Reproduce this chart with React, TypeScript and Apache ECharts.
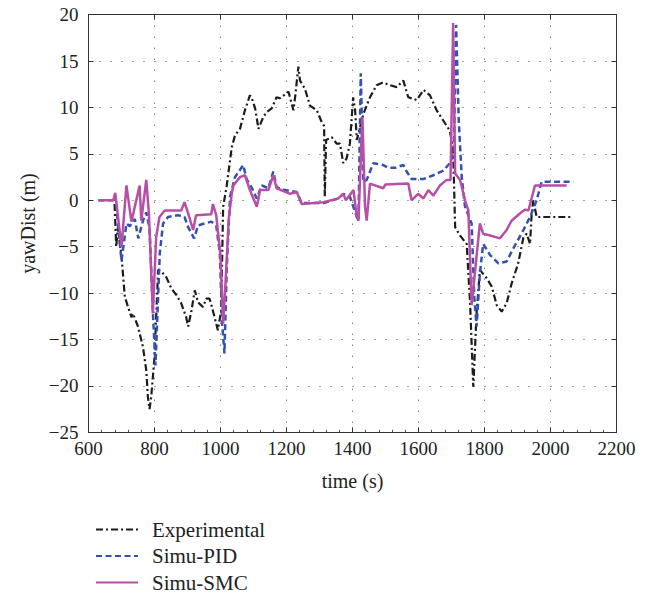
import React, { useEffect, useRef } from "react";
import * as echarts from "echarts";

const xTicks = [600, 800, 1000, 1200, 1400, 1600, 1800, 2000, 2200];
const yTicks = [-25, -20, -15, -10, -5, 0, 5, 10, 15, 20];

const expTime = [679, 684, 689, 700, 710, 720, 730, 735, 750, 765, 775, 780, 785, 790, 800, 811, 821, 836, 851, 866, 881, 896, 902, 912, 922, 932, 947, 957, 967, 977, 987, 992, 1002, 1008, 1019, 1034, 1044, 1059, 1074, 1089, 1094, 1105, 1115, 1130, 1140, 1155, 1170, 1180, 1206, 1221, 1226, 1236, 1241, 1256, 1271, 1292, 1307, 1314, 1316, 1320, 1337, 1352, 1362, 1372, 1382, 1392, 1402, 1408, 1413, 1423, 1433, 1453, 1473, 1493, 1514, 1534, 1554, 1569, 1595, 1615, 1635, 1655, 1675, 1695, 1705, 1711, 1726, 1746, 1756, 1766, 1776, 1786, 1807, 1822, 1837, 1852, 1867, 1882, 1902, 1918, 1928, 1938, 1943, 1948, 1958, 2064];
const expValues = [-0.4, -5.0, -2.9, -6, -10.4, -11.5, -12.6, -12.2, -13.6, -15.8, -18.3, -21.2, -22.5, -21.2, -16.9, -7.5, -7.7, -8.3, -9.5, -10.2, -11.1, -12.6, -13.6, -11.9, -9.7, -11.0, -11.5, -10.6, -10.6, -11.9, -13.3, -14.0, -11.9, -0.7, 1.6, 5.7, 7.0, 7.7, 9.7, 11.3, 11.1, 9.9, 7.7, 9.0, 9.5, 9.9, 11.1, 11.0, 11.7, 9.7, 11.1, 14.4, 12.9, 12.0, 10.2, 9.7, 8.4, 8.0, 0.4, 6.5, 6.8, 6.1, 6.1, 4.0, 4.5, 6.1, 11.1, 9.7, 6.5, 7.9, 9.3, 11.1, 12.4, 12.7, 12.4, 12.2, 12.9, 11.1, 10.8, 11.9, 11.3, 9.7, 8.6, 7.5, 5.4, -2.9, -3.8, -4.7, -10.8, -20.1, -12.2, -7.5, -8.4, -9.3, -11.3, -12.0, -11.1, -9.0, -6.8, -4.0, -3.6, -4.7, -1.4, 0, -1.8, -1.8];

const pidTime = [630, 675, 681, 700, 715, 725, 740, 751, 765, 775, 785, 795, 803, 816, 826, 841, 871, 891, 902, 920, 932, 972, 987, 998, 1005, 1012, 1019, 1029, 1044, 1069, 1079, 1094, 1110, 1125, 1145, 1160, 1170, 1195, 1231, 1246, 1312, 1357, 1372, 1392, 1413, 1418, 1425, 1433, 1443, 1463, 1493, 1509, 1529, 1554, 1564, 1579, 1615, 1645, 1675, 1695, 1707, 1714, 1722, 1731, 1741, 1761, 1769, 1776, 1786, 1796, 1817, 1842, 1867, 1887, 1918, 1938, 1958, 1973, 2069];
const pidValues = [0, 0, 0.5, -6.5, -2.5, -2.8, -2.0, -4.1, -2.2, -1.3, -3, -12, -17.8, -5.7, -2.5, -1.8, -1.6, -1.8, -2.9, -4.1, -2.7, -2.3, -2.7, -5.7, -13.3, -16.5, -7.2, 0.4, 2.5, 3.8, 2.3, 1.4, 0.2, 1.6, 1.3, 3.1, 1.4, 1.1, 0.9, -0.3, -0.3, 0.2, 0.7, 0.4, -1.8, -2.2, 13.7, 2, 2.2, 4.0, 3.8, 3.5, 3.5, 3.8, 3.1, 2.3, 2.3, 2.7, 3.2, 4.0, 5, 18.9, 8.6, 2.5, -0.7, -2.5, -10.4, -13.6, -7.9, -4.7, -5.9, -6.8, -6.6, -5.2, -3.2, -1.8, 0, 2.0, 2.0];

const smcTime = [630, 675, 681, 700, 715, 730, 755, 760, 775, 783, 795, 805, 815, 831, 881, 891, 902, 917, 926, 972, 977, 987, 1000, 1008, 1015, 1025, 1034, 1039, 1059, 1074, 1089, 1110, 1120, 1145, 1160, 1170, 1211, 1231, 1246, 1312, 1357, 1372, 1380, 1403, 1413, 1418, 1430, 1438, 1443, 1453, 1493, 1500, 1569, 1579, 1599, 1615, 1630, 1645, 1665, 1685, 1697, 1705, 1711, 1726, 1741, 1751, 1761, 1786, 1796, 1817, 1847, 1867, 1882, 1908, 1923, 1933, 1953, 2049];
const smcValues = [0, 0, 0.8, -5.0, 1.6, -2.3, 1.6, -2.2, 2.2, -1.4, -12.2, -4.0, -1.8, -1.1, -1.1, -0.2, -1.4, -3.2, -1.6, -1.5, -0.4, -1.6, -6, -13.3, -9, -2, 0.7, 1.6, 2.5, 2.7, 1.1, -0.7, 1.1, 1.1, 2.7, 1.3, 0.7, 0.9, -0.4, -0.2, 0.2, 0.7, 0.0, 1.1, -1.8, -2.2, 9.0, -0.7, -2.2, 1.8, 1.3, 1.7, 1.8, 0, 0.7, 0.2, 1.1, 0.5, 1.6, 2.2, 2.2, 19.1, 2.9, 2.2, 0, -1.1, -11.3, -2.5, -3.6, -3.8, -4.1, -3.2, -2.2, -1.4, -1.0, -1.1, 1.6, 1.6];

const zip = (t: number[], v: number[]) => t.map((x, i) => [x, v[i]]);

const FONT = "Liberation Serif, serif";

export default function App() {
  const ref = useRef<HTMLDivElement>(null);
  useEffect(() => {
    if (!ref.current) return;
    const chart = echarts.init(ref.current, null, { renderer: "svg" });
    const gridStyle = { show: true, lineStyle: { color: "#444", width: 1, type: [1, 10] as any } };
    const tickStyle = { show: true, inside: true, length: 5, lineStyle: { color: "#333", width: 1 } };
    chart.setOption({
      animation: false,
      backgroundColor: "#fff",
      grid: { left: 88.5, right: 34.5, top: 14.7, bottom: 168.7, outerBoundsMode: "none" },
      legend: {
        orient: "vertical",
        left: 95,
        top: 519,
        padding: 0,
        height: 82,
        itemWidth: 42,
        itemHeight: 14,
        itemGap: 5.5,
        itemStyle: { opacity: 0 },
        textStyle: { fontFamily: FONT, fontSize: 21, color: "#222", lineHeight: 21, padding: [0, 0, 0, 9] },
        data: ["Experimental", "Simu-PID", "Simu-SMC"],
      },
      xAxis: [
        {
          type: "value",
          min: xTicks[0],
          max: xTicks[xTicks.length - 1],
          interval: 200,
          name: "time (s)",
          nameLocation: "middle",
          nameGap: 39,
          nameTextStyle: { fontFamily: FONT, fontSize: 20, color: "#222" },
          axisLine: { show: true, onZero: false, lineStyle: { color: "#333", width: 1 } },
          axisTick: tickStyle,
          minorTick: { show: true, splitNumber: 5, length: 2.5, lineStyle: { color: "#555" } },
          axisLabel: { fontFamily: FONT, fontSize: 19, color: "#222", margin: 7, formatter: (v: number) => String(v) },
          splitLine: gridStyle,
        },
        {
          type: "value",
          position: "top",
          min: xTicks[0],
          max: xTicks[xTicks.length - 1],
          interval: 200,
          axisLine: { show: true, onZero: false, lineStyle: { color: "#333", width: 1 } },
          axisTick: tickStyle,
          axisLabel: { show: false },
          splitLine: { show: false },
        },
      ],
      yAxis: [
        {
          type: "value",
          min: yTicks[0],
          max: yTicks[yTicks.length - 1],
          interval: 5,
          name: "yawDist (m)",
          nameLocation: "middle",
          nameGap: 48,
          nameTextStyle: { fontFamily: FONT, fontSize: 20, color: "#222" },
          axisLine: { show: true, onZero: false, lineStyle: { color: "#333", width: 1 } },
          axisTick: tickStyle,
          axisLabel: {
            fontFamily: FONT,
            fontSize: 19,
            color: "#222",
            margin: 10,
            formatter: (v: number) => String(v).replace("-", "\u2212"),
          },
          splitLine: gridStyle,
        },
        {
          type: "value",
          position: "right",
          min: yTicks[0],
          max: yTicks[yTicks.length - 1],
          interval: 5,
          axisLine: { show: true, onZero: false, lineStyle: { color: "#333", width: 1 } },
          axisTick: tickStyle,
          axisLabel: { show: false },
          splitLine: { show: false },
        },
      ],
      series: [
        {
          name: "Experimental",
          type: "line",
          data: zip(expTime, expValues),
          showSymbol: false,
          symbol: "none",
          lineStyle: { color: "#1c1c1c", width: 2.2, type: [7, 3, 2, 3] },
          itemStyle: { color: "#1c1c1c" },
        },
        {
          name: "Simu-PID",
          type: "line",
          data: zip(pidTime, pidValues),
          showSymbol: false,
          symbol: "none",
          lineStyle: { color: "#3352b0", width: 2.5, type: [6, 3.5] },
          itemStyle: { color: "#3352b0" },
        },
        {
          name: "Simu-SMC",
          type: "line",
          data: zip(smcTime, smcValues),
          showSymbol: false,
          symbol: "none",
          lineStyle: { color: "#b84fa6", width: 2.5 },
          itemStyle: { color: "#b84fa6" },
        },
      ],
    });
    return () => chart.dispose();
  }, []);
  return (
    <div
      ref={ref}
      style={{ position: "fixed", left: 0, top: 0, width: 651, height: 601, background: "#fff" }}
    />
  );
}
